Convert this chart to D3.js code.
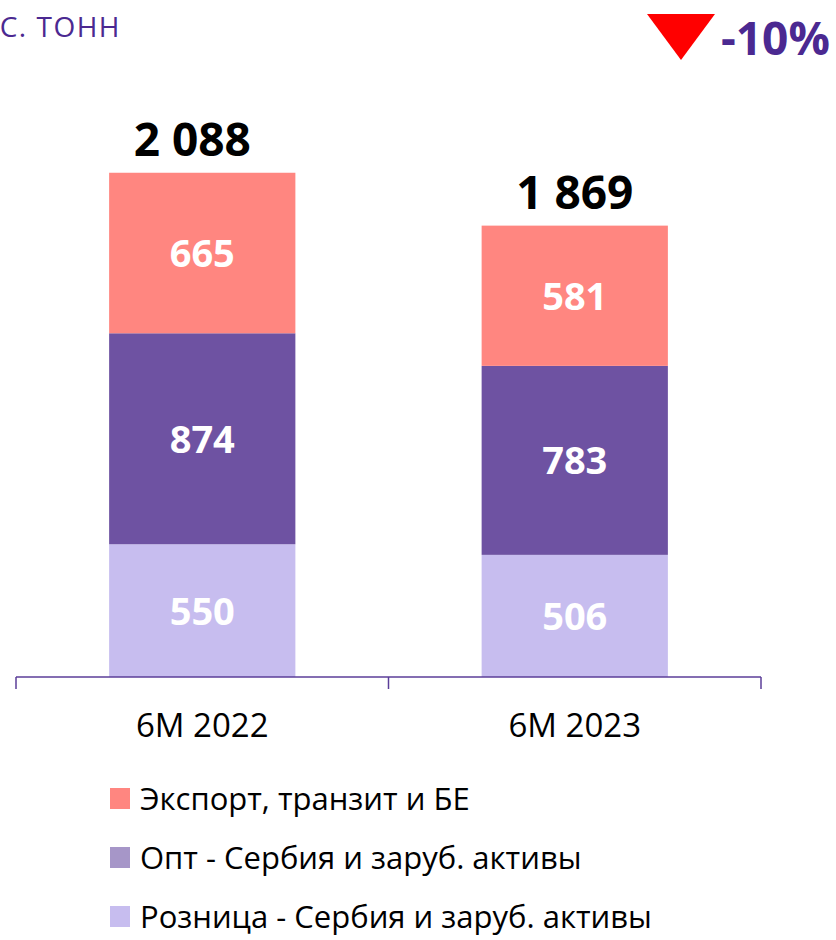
<!DOCTYPE html>
<html>
<head>
<meta charset="utf-8">
<script src="https://cdn.jsdelivr.net/npm/d3@7"></script>
<style>
  body { margin: 0; background: #fff; }
  svg { display: block; }
</style>
</head>
<body>
<script>
var width = 836, height = 940;

var categories = ["6M 2022", "6M 2023"];
var seriesNames = ["Розница - Сербия и заруб. активы", "Опт - Сербия и заруб. активы", "Экспорт, транзит и БЕ"];
var retail = [550, 506];
var wholesale = [874, 783];
var exportT = [665, 581];
var totals = ["2 088", "1 869"];
var barColors = ["#C7BDEF", "#6E52A2", "#FF8680"];
var legendColors = ["#C7BDEF", "#A696C8", "#FF8680"];

var svg = d3.select("body").append("svg")
  .attr("width", width)
  .attr("height", height);

var rows = categories.map(function(c, i) {
  return { cat: c, retail: retail[i], wholesale: wholesale[i], exportT: exportT[i], total: totals[i] };
});
var keys = ["retail", "wholesale", "exportT"];
var stacked = d3.stack().keys(keys)(rows);

var x = d3.scaleBand().domain(categories).range([16, 761]).paddingInner(0.5).paddingOuter(0.25);
var y = d3.scaleLinear().domain([0, 2088]).range([677, 173]);

// bars
var layers = svg.selectAll(".layer")
  .data(stacked)
  .enter().append("g")
  .attr("fill", function(d, i) { return barColors[i]; });

layers.selectAll("rect")
  .data(function(d) { return d; })
  .enter().append("rect")
  .attr("x", function(d) { return x(d.data.cat); })
  .attr("width", x.bandwidth())
  .attr("y", function(d) { return y(d[1]); })
  .attr("height", function(d) { return y(d[0]) - y(d[1]); });

// segment labels
layers.selectAll("text")
  .data(function(d) { return d.map(function(p) { return { p: p, key: d.key }; }); })
  .enter().append("text")
  .attr("x", function(d) { return x(d.p.data.cat) + x.bandwidth() / 2; })
  .attr("y", function(d) { return (y(d.p[0]) + y(d.p[1])) / 2 + 14; })
  .attr("text-anchor", "middle")
  .attr("fill", "#fff")
  .style("font-family", "Open Sans, sans-serif")
  .style("font-weight", "bold")
  .style("font-size", "38px")
  .text(function(d) { return d.p.data[d.key]; });

// totals
svg.selectAll(".total")
  .data(rows)
  .enter().append("text")
  .attr("x", function(d, i) { return x(d.cat) + x.bandwidth() / 2 - (i === 0 ? 10 : 0); })
  .attr("y", function(d) { return y(d.retail + d.wholesale + d.exportT) - 17; })
  .attr("text-anchor", "middle")
  .attr("fill", "#000")
  .style("font-family", "Open Sans, sans-serif")
  .style("font-weight", "bold")
  .style("font-size", "46px")
  .text(function(d) { return d.total; });

// axis with boundary ticks
var axisG = svg.append("g").attr("stroke", "#5B3E99").attr("stroke-width", 1.5);
axisG.append("line").attr("x1", 16).attr("x2", 761).attr("y1", 677).attr("y2", 677);
[16, (16 + 761) / 2, 761].forEach(function(tx) {
  axisG.append("line").attr("x1", tx).attr("x2", tx).attr("y1", 677).attr("y2", 689);
});

svg.selectAll(".cat")
  .data(categories)
  .enter().append("text")
  .attr("x", function(d) { return x(d) + x.bandwidth() / 2; })
  .attr("y", 737)
  .attr("text-anchor", "middle")
  .attr("fill", "#000")
  .style("font-family", "Open Sans, sans-serif")
  .style("font-size", "33px")
  .text(function(d) { return d; });

// title (reference shows only the tail of it)
svg.append("text")
  .attr("x", 121)
  .attr("y", 37)
  .attr("text-anchor", "end")
  .attr("fill", "#4B2991")
  .style("font-family", "Open Sans, sans-serif")
  .style("font-size", "28px")
  .style("letter-spacing", "1.5px")
  .text("С. ТОНН");

// change indicator
svg.append("path")
  .attr("d", "M647,14 L715,14 L681,60 Z")
  .attr("fill", "#FF0000");
svg.append("text")
  .attr("x", 721)
  .attr("y", 55)
  .attr("fill", "#4B2991")
  .style("font-family", "Open Sans, sans-serif")
  .style("font-weight", "bold")
  .style("font-size", "46px")
  .text("-10%");

// legend
var legendOrder = [2, 1, 0];
var leg = svg.selectAll(".leg")
  .data(legendOrder)
  .enter().append("g")
  .attr("transform", function(d, i) { return "translate(110," + (788 + i * 59) + ")"; });
leg.append("rect")
  .attr("width", 20).attr("height", 21)
  .attr("fill", function(d) { return legendColors[d]; });
leg.append("text")
  .attr("x", 30)
  .attr("y", 22)
  .attr("fill", "#000")
  .style("font-family", "Open Sans, sans-serif")
  .style("font-size", "31px")
  .text(function(d) { return seriesNames[d]; });
</script>
</body>
</html>
